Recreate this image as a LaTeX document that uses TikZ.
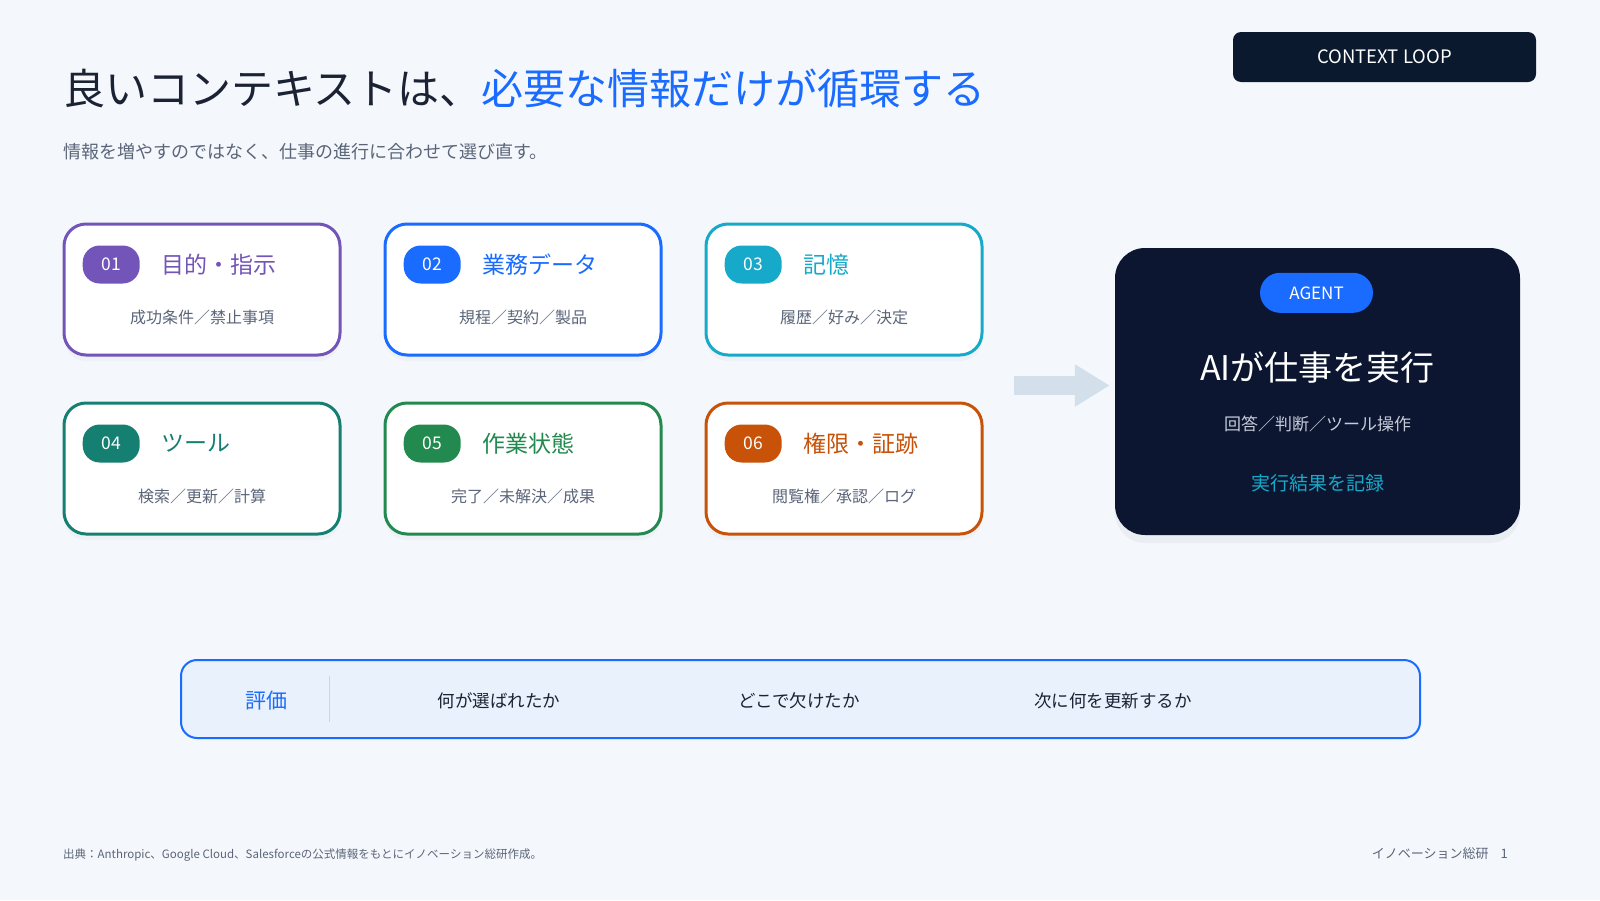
\documentclass[tikz,border=0pt]{standalone}
\usepackage{fontspec}
\setmainfont{Noto Sans CJK JP}
\usepackage{tikz}
\usetikzlibrary{shadows, positioning, arrows.meta, calc}

\definecolor{pagebg}{HTML}{F4F8FC}
\definecolor{inkdark}{HTML}{1B2233}
\definecolor{accblue}{HTML}{1A6BFF}
\definecolor{accpurple}{HTML}{7354B9}
\definecolor{acccyan}{HTML}{17A9C9}
\definecolor{accteal}{HTML}{157F72}
\definecolor{accgreen}{HTML}{22894F}
\definecolor{accorange}{HTML}{C85207}
\definecolor{agentnavy}{HTML}{0C1631}
\definecolor{loopnavy}{HTML}{0B192E}
\definecolor{subgray}{HTML}{5B6579}
\definecolor{flowgray}{HTML}{D3DFEA}
\definecolor{barfill}{HTML}{E8F1FC}
\definecolor{agentsub}{HTML}{C5CDD9}
\definecolor{dividergray}{HTML}{C9D6E4}

\newcommand{\pxfont}[1]{\fontsize{#1}{#1}\selectfont}

\begin{document}
\begin{tikzpicture}[
        x=1pt, y=-1pt,
        node distance=45pt and 42pt,
        every node/.style={align=center},
        card/.style={rectangle, draw=#1, line width=3pt, fill=white, rounded corners=22pt, minimum width=276pt, minimum height=131pt, drop shadow={shadow xshift=0pt, shadow yshift=-6pt, opacity=0.05}},
        badge/.style={rectangle, fill=#1, rounded corners=17pt, minimum width=57pt, minimum height=38pt, inner sep=0pt, text=white, font=\pxfont{17.5}},
        cardtitle/.style={anchor=west, inner sep=0pt, text=#1, font=\pxfont{23}},
        cardsub/.style={inner sep=0pt, text=subgray, font=\pxfont{16}},
        baritem/.style={inner sep=0pt, text=inkdark, font=\pxfont{17.5}},
        flow/.style={line width=19pt, draw=flowgray, -{Triangle[length=35pt 0 0, width=40pt 0 0]}}
    ]
%
    % Fond
    \fill[pagebg] (0,0) rectangle (1600,900);
    \useasboundingbox (0,0) rectangle (1600,900);
%
    % Titre
    \node[anchor=base west, inner sep=0pt, text=inkdark, font=\pxfont{42}] (title) at (63,104) {良いコンテキストは、\textcolor{accblue}{必要な情報だけが循環する}};
    \node[anchor=base west, inner sep=0pt, text=subgray, font=\pxfont{18}] (subtitle) at (63,158) {情報を増やすのではなく、仕事の進行に合わせて選び直す。};
    \node[rectangle, fill=loopnavy, rounded corners=8pt, minimum width=303pt, minimum height=50pt, text=white, font=\pxfont{18.5}] (loop) at (1384.5,57) {CONTEXT LOOP};
%
    % Cartes
    \node[card=accpurple] (c1) at (202,289.5) {};
    \node[card=accblue, right=of c1] (c2) {};
    \node[card=acccyan, right=of c2] (c3) {};
    \node[card=accteal, below=of c1] (c4) {};
    \node[card=accgreen, below=of c2] (c5) {};
    \node[card=accorange, below=of c3] (c6) {};
%
    \foreach \cid/\col/\num/\ttl/\sub in {c1/accpurple/01/目的・指示/成功条件／禁止事項, c2/accblue/02/業務データ/規程／契約／製品, c3/acccyan/03/記憶/履歴／好み／決定, c4/accteal/04/ツール/検索／更新／計算, c5/accgreen/05/作業状態/完了／未解決／成果, c6/accorange/06/権限・証跡/閲覧権／承認／ログ}{
        \node[badge=\col, anchor=west] (\cid-num) at ($(\cid.north west)+(20,42)$) {\num};
        \node[cardtitle=\col] (\cid-ttl) at ($(\cid.north west)+(99,42)$) {\ttl};
        \node[cardsub] (\cid-sub) at ($(\cid.north)+(0,95)$) {\sub};
    }
%
    % Agent
    \node[rectangle, fill=agentnavy, rounded corners=30pt, minimum width=405pt, minimum height=287pt, drop shadow={shadow xshift=0pt, shadow yshift=-8pt, opacity=0.08}] (agent) at (1317.5,391.5) {};
    \node[rectangle, fill=accblue, rounded corners=20pt, minimum width=113pt, minimum height=40pt, inner sep=0pt, text=white, font=\pxfont{17}] (agenttag) at ($(agent.north)+(-1,45)$) {AGENT};
    \node[inner sep=0pt, text=white, font=\pxfont{34}] (agentttl) at ($(agent.north)+(0,120)$) {AIが仕事を実行};
    \node[inner sep=0pt, text=agentsub, font=\pxfont{17}] (agentsub) at ($(agent.north)+(0,176)$) {回答／判断／ツール操作};
    \node[inner sep=0pt, text=acccyan, font=\pxfont{19}] (agentlog) at ($(agent.north)+(0,235)$) {実行結果を記録};
%
    % Fleche
    \coordinate (flowin) at ($(c3.east)!0.5!(c6.east)+(30,6.5)$);
    \draw[flow, shorten >=5pt] (flowin) -- (flowin -| agent.west);
%
    % Evaluation
    \node[rectangle, draw=accblue, line width=2pt, fill=barfill, rounded corners=16pt, minimum width=1239pt, minimum height=78pt] (evalbar) at (800.5,699) {};
    \node[inner sep=0pt, text=accblue, font=\pxfont{21}] (evalttl) at ($(evalbar.west)+(86,2)$) {評価};
    \draw[dividergray, line width=1pt] ($(evalbar.west)+(149,-23)$) -- ($(evalbar.west)+(149,23)$);
    \node[baritem] (eval1) at ($(evalbar.west)+(319,2)$) {何が選ばれたか};
    \node[baritem] (eval2) at ($(evalbar.west)+(619,2)$) {どこで欠けたか};
    \node[baritem] (eval3) at ($(evalbar.west)+(933,2)$) {次に何を更新するか};
%
    % Pied de page
    \node[anchor=base west, inner sep=0pt, text=subgray, font=\pxfont{11.5}] (source) at (63,858) {出典：Anthropic、Google Cloud、Salesforceの公式情報をもとにイノベーション総研作成。};
    \node[anchor=base east, inner sep=0pt, text=subgray, font=\pxfont{13}] (pagenum) at (1508,858) {イノベーション総研\hspace{12pt}1};
%
\end{tikzpicture}
\end{document}
